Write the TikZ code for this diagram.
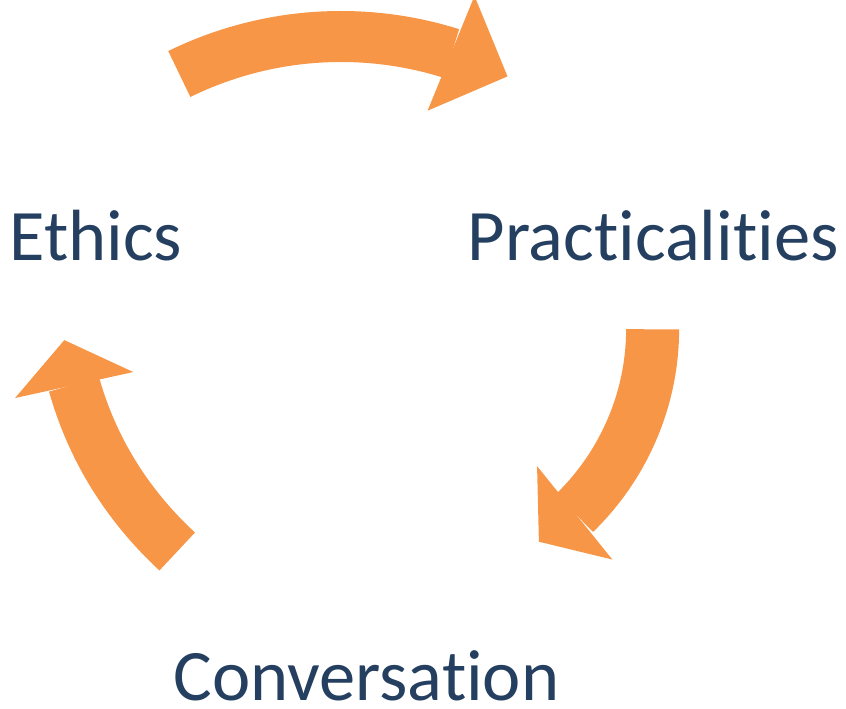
\documentclass[tikz,border=0pt]{standalone}
\usepackage{fontspec}
\setmainfont{Carlito}[Ligatures=CommonOff]
\usetikzlibrary{arrows.meta,bending}
\definecolor{textblue}{HTML}{243F60}
\definecolor{cycleorange}{HTML}{F79646}
\begin{document}
\begin{tikzpicture}[x=1pt,y=1pt,
		lbl/.style={text=textblue,font=\fontsize{72.5}{80}\selectfont,inner sep=0pt,text depth=0pt,anchor=base},
		cyc/.style={draw=cycleorange,line width=52pt,looseness=0.9}]
		\useasboundingbox (0,0) rectangle (846,-709);
		\node (Et) at (96,-260)    [lbl] {Ethics};
		\node (Pr) at (653,-260)   [lbl] {Practicalities};
		\node (Co) at (366.4,-700) [lbl] {Conversation};
		% ends of the three arrows
		\coordinate (EPa) at (179.3,-74.0);
		\coordinate (EPb) at (507.5,-76.4);
		\coordinate (PCa) at (652.6,-329.3);
		\coordinate (PCb) at (538.9,-541.7);
		\coordinate (CEa) at (177.2,-551.5);
		\coordinate (CEb) at (64.3,-340.1);
		\draw[cyc,line width=51pt,-{Triangle[length=61pt,width=124pt,line width=0pt,flex]}] (EPa) to[bend left=26.5] (EPb);
		\draw[cyc,line width=53pt,-{Triangle[length=46pt,width=120pt,line width=0pt,flex]}] (PCa) to[bend left=28.2] (PCb);
		\draw[cyc,line width=52pt,-{Triangle[length=46pt,width=121pt,line width=0pt,flex]}] (CEa) to[bend left=19] (CEb);
	\end{tikzpicture}
\end{document}
